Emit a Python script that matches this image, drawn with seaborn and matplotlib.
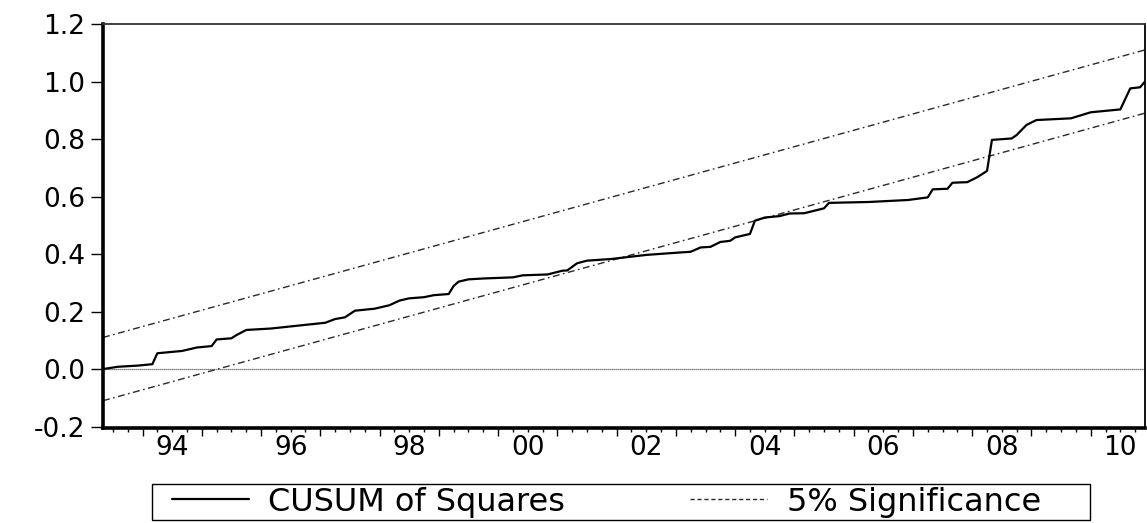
import numpy as np
import pandas as pd
import matplotlib
matplotlib.use("Agg")
import matplotlib.pyplot as plt
from matplotlib.patches import Rectangle
import seaborn as sns

# CUSUM of squares path (turning points of the recursive statistic, monthly)
cusum_dates = [
    "1993-05", "1993-08", "1993-12", "1994-03", "1994-04", "1994-09", "1994-12",
    "1995-03", "1995-04", "1995-07", "1995-08", "1995-10", "1996-03", "1996-09",
    "1997-02", "1997-04", "1997-06", "1997-08", "1997-12", "1998-03", "1998-05",
    "1998-07", "1998-10", "1998-12", "1999-03", "1999-04", "1999-05", "1999-07",
    "1999-10", "2000-04", "2000-06", "2000-11", "2001-02", "2001-03", "2001-05",
    "2001-07", "2001-12", "2002-07", "2002-11", "2003-04", "2003-06", "2003-08",
    "2003-10", "2003-12", "2004-01", "2004-04", "2004-05", "2004-07", "2004-10",
    "2004-12", "2005-03", "2005-07", "2005-08", "2006-04", "2006-12", "2007-04",
    "2007-05", "2007-08", "2007-09", "2007-12", "2008-02", "2008-04", "2008-05",
    "2008-09", "2008-10", "2008-12", "2009-02", "2009-09", "2010-01", "2010-07",
    "2010-09", "2010-11", "2010-12",
]
cusum_values = [
    0.000, 0.008, 0.012, 0.017, 0.055, 0.063, 0.075,
    0.080, 0.103, 0.107, 0.118, 0.136, 0.141, 0.152,
    0.161, 0.174, 0.180, 0.203, 0.210, 0.222, 0.238,
    0.246, 0.250, 0.257, 0.261, 0.289, 0.304, 0.312,
    0.315, 0.319, 0.326, 0.329, 0.342, 0.343, 0.368,
    0.377, 0.383, 0.397, 0.402, 0.408, 0.423, 0.425,
    0.442, 0.446, 0.458, 0.470, 0.516, 0.527, 0.532,
    0.541, 0.542, 0.559, 0.578, 0.581, 0.588, 0.597,
    0.625, 0.627, 0.648, 0.650, 0.667, 0.689, 0.797,
    0.802, 0.814, 0.849, 0.866, 0.872, 0.893, 0.903,
    0.976, 0.980, 1.000,
]

# 5% significance band endpoints
band_dates = ["1993-05", "2010-12"]
upper_band = [0.11, 1.11]
lower_band = [-0.11, 0.89]

year_labels = ["94", "96", "98", "00", "02", "04", "06", "08", "10"]
label_years = [1994, 1996, 1998, 2000, 2002, 2004, 2006, 2008, 2010]
y_ticks = [-0.2, 0.0, 0.2, 0.4, 0.6, 0.8, 1.0, 1.2]


def to_decimal_year(stamps):
    idx = pd.PeriodIndex(stamps, freq="M")
    return idx.year + (idx.month - 1) / 12.0


cusum_df = pd.DataFrame({"t": to_decimal_year(cusum_dates), "value": cusum_values})
band_df = pd.DataFrame({
    "t": to_decimal_year(band_dates),
    "upper": upper_band,
    "lower": lower_band,
})

sns.set_theme(style="white")
plt.rcParams["font.family"] = ["DejaVu Sans"]
plt.rcParams["text.color"] = "black"

W, H = 1147, 523
fig = plt.figure(figsize=(W / 100, H / 100), dpi=100)
ax = fig.add_axes([0.0898, 0.1816, 0.9085, 0.7725])

x0, x1 = cusum_df["t"].iloc[0], cusum_df["t"].iloc[-1]

ax.axhline(0.0, color="#555555", lw=0.9, ls=(0, (1, 0.6)), zorder=1)

dash = (0, (5, 2.5, 1.2, 2.5))
sns.lineplot(data=band_df, x="t", y="upper", ax=ax, color="#2a2a2a",
             lw=1.0, linestyle=dash, label="5% Significance", zorder=2)
sns.lineplot(data=band_df, x="t", y="lower", ax=ax, color="#2a2a2a",
             lw=1.0, linestyle=dash, label="_nolegend_", zorder=2)
sns.lineplot(data=cusum_df, x="t", y="value", ax=ax, color="black",
             lw=1.6, label="CUSUM of Squares", zorder=3)

ax.set_xlim(x0, x1)
ax.set_ylim(-0.205, 1.2)
ax.set_xlabel("")
ax.set_ylabel("")

# y axis
ax.set_yticks(y_ticks)
ax.set_yticklabels([f"{v:.1f}" for v in y_ticks])
ax.tick_params(axis="y", direction="out", length=9, width=1.0, pad=4,
               labelsize=19, colors="black", left=True)

# x axis: long ticks at year starts, short ticks each quarter, labels mid-year
ax.set_xticks(np.arange(1994, 2011))
ax.set_xticklabels([])
ax.set_xticks(np.arange(1993.5, 2011.0, 0.25), minor=True)
ax.tick_params(axis="x", which="major", direction="out", length=5.5, width=1.0,
               bottom=True, color="black")
ax.tick_params(axis="x", which="minor", direction="out", length=3, width=1.0,
               bottom=True, color="black")

sec = ax.secondary_xaxis("bottom")
sec.set_xticks([y + 0.5 for y in label_years])
sec.set_xticklabels(year_labels)
sec.tick_params(axis="x", length=0, pad=5, labelsize=19, colors="black")
sec.spines["bottom"].set_visible(False)

for side, w in [("left", 2.6), ("bottom", 2.6), ("top", 1.3), ("right", 1.3)]:
    ax.spines[side].set_visible(True)
    ax.spines[side].set_color("black")
    ax.spines[side].set_linewidth(w)
ax.spines["top"].set_color("#333333")

ax.grid(False)

handles, labels = ax.get_legend_handles_labels()
order = [labels.index("CUSUM of Squares"), labels.index("5% Significance")]
ax.get_legend().remove()
leg = fig.legend([handles[i] for i in order], [labels[i] for i in order],
                 loc="center left", bbox_to_anchor=(172 / W, 1 - 502 / H),
                 ncol=2, frameon=False, fontsize=23, handlelength=2.4,
                 handletextpad=0.62, columnspacing=3.9, borderpad=0.0,
                 borderaxespad=0.0, labelcolor="black")
for line in leg.get_lines():
    if line.get_linestyle() != "-":
        line.set_linestyle((0, (3, 2)))

# legend frame
fig.patches.append(Rectangle((152 / W, 1 - 520 / H), (1090 - 152) / W, 36 / H,
                             transform=fig.transFigure, fill=False,
                             edgecolor="black", lw=1.0))

fig.savefig("out.png", dpi=100, facecolor="white")
